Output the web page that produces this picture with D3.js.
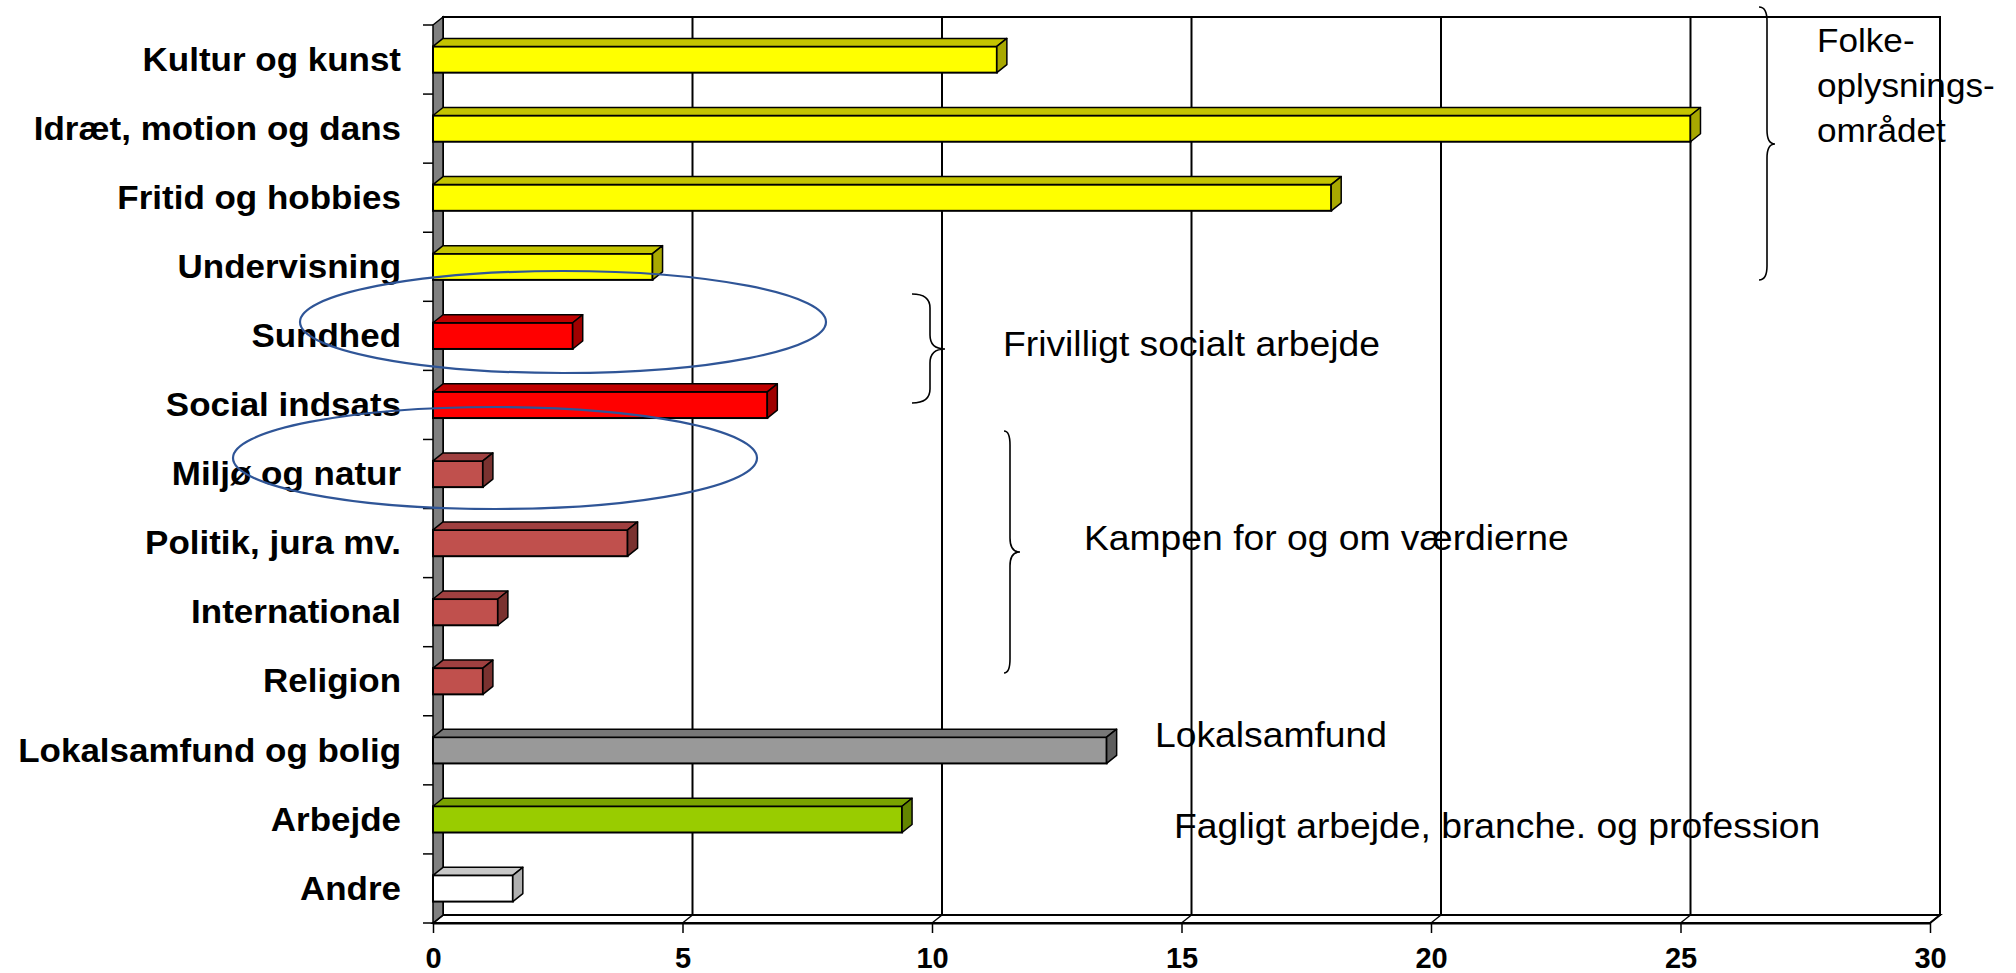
<!DOCTYPE html>
<html><head><meta charset="utf-8">
<script src="https://cdn.jsdelivr.net/npm/d3@7"></script>
<style>
html,body{margin:0;padding:0;background:#fff;}
svg{display:block;}
</style></head>
<body>
<svg id="chart" width="2016" height="973"></svg>
<script>
// ---- data ----
const categories = ["Kultur og kunst","Idræt, motion og dans","Fritid og hobbies","Undervisning","Sundhed","Social indsats","Miljø og natur","Politik, jura mv.","International","Religion","Lokalsamfund og bolig","Arbejde","Andre"];
const values = [11.3, 25.2, 18.0, 4.4, 2.8, 6.7, 1.0, 3.9, 1.3, 1.0, 13.5, 9.4, 1.6];
const groups = ["folk","folk","folk","folk","social","social","vaerdi","vaerdi","vaerdi","vaerdi","lokal","fag","andre"];
const xTicks = [0, 5, 10, 15, 20, 25, 30];
const groupLabels = ["Frivilligt socialt arbejde","Kampen for og om værdierne","Lokalsamfund","Fagligt arbejde, branche. og profession"];
const folkLines = ["Folke-","oplysnings-","området"];

// ---- styles ----
const palette = {
  folk:   {front:"#FFFF00", top:"#C4C400", side:"#A8A800"},
  social: {front:"#FF0000", top:"#C00000", side:"#A00000"},
  vaerdi: {front:"#C0504D", top:"#A04040", side:"#7A3230"},
  lokal:  {front:"#999999", top:"#777777", side:"#5E5E5E"},
  fag:    {front:"#99CC00", top:"#7AA300", side:"#638500"},
  andre:  {front:"#FFFFFF", top:"#C8C8C8", side:"#B0B0B0"}
};
const FONT = "Liberation Sans, Arial, sans-serif";
const dx = 10, dy = 8;
const svg = d3.select("#chart");
const x = d3.scaleLinear().domain([0, 30]).range([433, 1930]);
const y = d3.scaleBand().domain(categories).range([25, 923]).paddingInner(0.62).paddingOuter(0.31);
const yTop = 25, yBot = 923;
const step = y.step();

// back wall
svg.append("rect").attr("x", x(0)+dx).attr("y", yTop-dy)
  .attr("width", x(30)-x(0)).attr("height", yBot-yTop)
  .attr("fill","#fff").attr("stroke","#000").attr("stroke-width",2);
svg.selectAll(".grid").data(xTicks.slice(1,-1)).join("line")
  .attr("x1", d=>x(d)+dx).attr("x2", d=>x(d)+dx)
  .attr("y1", yTop-dy).attr("y2", yBot-dy)
  .attr("stroke","#000").attr("stroke-width",2);
// floor
svg.append("path")
  .attr("d", `M${x(0)},${yBot} L${x(0)+dx},${yBot-dy} L${x(30)+dx},${yBot-dy} L${x(30)},${yBot} Z`)
  .attr("fill","#fff").attr("stroke","#000").attr("stroke-width",2);
svg.selectAll(".fgrid").data(xTicks).join("line")
  .attr("x1", d=>x(d)).attr("x2", d=>x(d)+dx)
  .attr("y1", yBot).attr("y2", yBot-dy)
  .attr("stroke","#000").attr("stroke-width",1.5);
// left wall
svg.append("path")
  .attr("d", `M${x(0)},${yTop} L${x(0)+dx},${yTop-dy} L${x(0)+dx},${yBot-dy} L${x(0)},${yBot} Z`)
  .attr("fill","#808080").attr("stroke","#000").attr("stroke-width",1.5);

// left category ticks at band boundaries
const bounds = d3.range(categories.length+1).map(i => yTop + i*step);
svg.selectAll(".ytick").data(bounds).join("line")
  .attr("x1", x(0)-10).attr("x2", x(0)).attr("y1", d=>d).attr("y2", d=>d)
  .attr("stroke","#000").attr("stroke-width",1.5);

// x axis (front)
const xAxis = svg.append("g").attr("transform", `translate(0,${yBot})`)
  .call(d3.axisBottom(x).tickValues(xTicks).tickSize(10).tickSizeOuter(0).tickPadding(14));
xAxis.select(".domain").attr("stroke","#000").attr("stroke-width",2);
xAxis.selectAll(".tick line").attr("stroke","#000").attr("stroke-width",1.5);
xAxis.selectAll(".tick text").attr("font-family",FONT)
  .attr("font-size",29).attr("font-weight","bold").attr("fill","#000");

// y category labels
svg.append("g").selectAll("text").data(categories).join("text")
  .attr("transform", d => `translate(${x(0)-32},${y(d)+y.bandwidth()/2}) scale(1.06,1)`)
  .attr("dy","0.34em").attr("text-anchor","end")
  .attr("font-family",FONT).attr("font-size",33).attr("font-weight","bold").attr("fill","#000")
  .text(d=>d);

// bars
const bars = svg.append("g").selectAll("g").data(categories.map((c,i)=>({c, v:values[i], g:groups[i]}))).join("g");
bars.each(function(d){
  const g = d3.select(this);
  const p = palette[d.g];
  const x0 = x(0), x1 = x(d.v), t = y(d.c), b = y(d.c)+y.bandwidth();
  g.append("rect").attr("x",x0).attr("y",t).attr("width",x1-x0).attr("height",b-t)
    .attr("fill",p.front).attr("stroke","#000").attr("stroke-width",2);
  g.append("path").attr("d",`M${x0},${t} L${x0+dx},${t-dy} L${x1+dx},${t-dy} L${x1},${t} Z`)
    .attr("fill",p.top).attr("stroke","#000").attr("stroke-width",1.5).attr("stroke-linejoin","round");
  g.append("path").attr("d",`M${x1},${t} L${x1+dx},${t-dy} L${x1+dx},${b-dy} L${x1},${b} Z`)
    .attr("fill",p.side).attr("stroke","#000").attr("stroke-width",1.5).attr("stroke-linejoin","round");
});

// braces
function brace(xh, xl, xt, y0, ym, y1){
  const r = 14;
  return `M${xh},${y0} Q${xl},${y0} ${xl},${y0+r} L${xl},${ym-r} Q${xl},${ym} ${xt},${ym} Q${xl},${ym} ${xl},${ym+r} L${xl},${y1-r} Q${xl},${y1} ${xh},${y1}`;
}
const braceG = svg.append("g").attr("fill","none").attr("stroke","#000").attr("stroke-width",1.6);
braceG.append("path").attr("d", brace(1759, 1767, 1775, 7, 144, 280));
braceG.append("path").attr("d", brace(912, 930, 945, 294, 349, 403));
braceG.append("path").attr("d", brace(1004, 1010, 1020, 431, 552, 673));

// annotation text
const ann = svg.append("g").attr("font-family",FONT).attr("fill","#000");
const annPos = [[1003,356],[1084,550],[1155,747],[1174,838]];
ann.selectAll(".lab").data(groupLabels).join("text")
  .attr("transform",(d,i)=>`translate(${annPos[i][0]},${annPos[i][1]}) scale(1.065,1)`)
  .attr("font-size",35).text(d=>d);
ann.selectAll(".folk").data(folkLines).join("text")
  .attr("transform",(d,i)=>`translate(1817,${52+i*45}) scale(1.065,1)`)
  .attr("font-size",33).text(d=>d);

// ellipses
svg.append("ellipse").attr("cx",563).attr("cy",322).attr("rx",263).attr("ry",51)
  .attr("fill","none").attr("stroke","#2F5597").attr("stroke-width",2.2);
svg.append("ellipse").attr("cx",495).attr("cy",458).attr("rx",262).attr("ry",51)
  .attr("fill","none").attr("stroke","#2F5597").attr("stroke-width",2.2);
</script>
</body></html>
